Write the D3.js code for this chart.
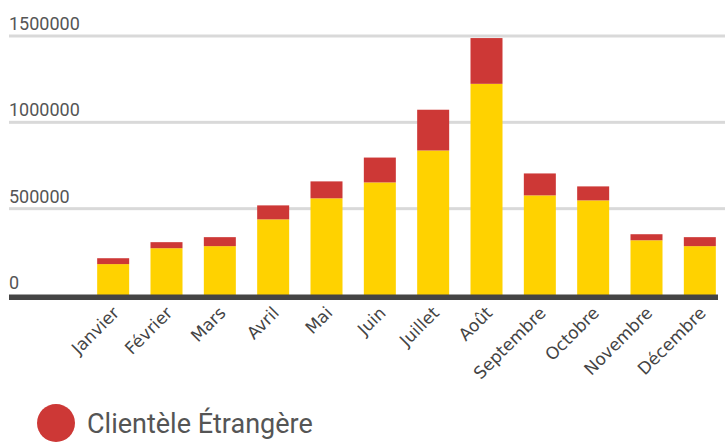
<!DOCTYPE html>
<html>
<head>
<meta charset="utf-8">
<script src="https://cdnjs.cloudflare.com/ajax/libs/d3/7.8.5/d3.min.js"></script>
<style>
  body { margin: 0; background: #fff; }
  svg { display: block; font-family: Roboto, sans-serif; }
</style>
</head>
<body>
<svg id="chart" width="725" height="442"></svg>
<script>
// values
const months = ["Janvier", "Février", "Mars", "Avril", "Mai", "Juin",
                "Juillet", "Août", "Septembre", "Octobre", "Novembre", "Décembre"];
const francaise = [179000, 271000, 283000, 438000, 560000, 652000,
                   837000, 1223000, 577000, 548000, 317000, 283000];
const etrangere = [34000, 35000, 52000, 81000, 98000, 144000,
                   236000, 265000, 127000, 81000, 35000, 52000];
const yTicks = [0, 500000, 1000000, 1500000];

const width = 725, height = 442;
const svg = d3.select("#chart");

const x = d3.scaleBand()
    .domain(months)
    .range([86.5, 726.5])
    .paddingInner(0.4)
    .paddingOuter(0.2);

const y = d3.scaleLinear()
    .domain([0, 1500000])
    .range([295, 36]);

// gridlines + labels
const grid = svg.append("g");
yTicks.filter(d => d > 0).forEach(function (t)
{
    grid.append("rect")
        .attr("x", 9).attr("y", y(t) - 1.5)
        .attr("width", width - 9).attr("height", 3)
        .attr("fill", "#d9d9d9");
});
yTicks.forEach(function (t)
{
    grid.append("text")
        .attr("x", 9).attr("y", y(t) - 6)
        .attr("font-size", 18)
        .attr("fill", "#555")
        .text(t);
});

// stacked bars
const rows = months.map((m, i) => ({month: m, fr: francaise[i], et: etrangere[i]}));
const stack = d3.stack().keys(["fr", "et"])(rows);
const colors = {fr: "#ffd200", et: "#cd3836"};

svg.append("g").selectAll("g")
    .data(stack)
    .join("g")
    .attr("fill", s => colors[s.key])
    .selectAll("rect")
    .data(s => s)
    .join("rect")
    .attr("x", d => x(d.data.month))
    .attr("width", x.bandwidth())
    .attr("y", d => y(d[1]))
    .attr("height", d => y(d[0]) - y(d[1]));

// baseline
svg.append("rect")
    .attr("x", 9).attr("y", 294.5)
    .attr("width", 709).attr("height", 5.5)
    .attr("fill", "#444");

// month labels
svg.append("g").selectAll("text")
    .data(months)
    .join("text")
    .attr("transform", d => "translate(" + (x(d) + x.bandwidth() / 2 + 7) + ",314) rotate(-45)")
    .attr("text-anchor", "end")
    .attr("font-family", "'DejaVu Sans', sans-serif")
    .attr("font-size", 17)
    .attr("fill", "#444")
    .text(d => d);

// legend (only the visible entry)
svg.append("circle")
    .attr("cx", 56).attr("cy", 423).attr("r", 19)
    .attr("fill", colors.et);
svg.append("text")
    .attr("x", 87).attr("y", 433)
    .attr("font-size", 27)
    .attr("fill", "#555")
    .text("Clientèle Étrangère");
</script>
</body>
</html>
